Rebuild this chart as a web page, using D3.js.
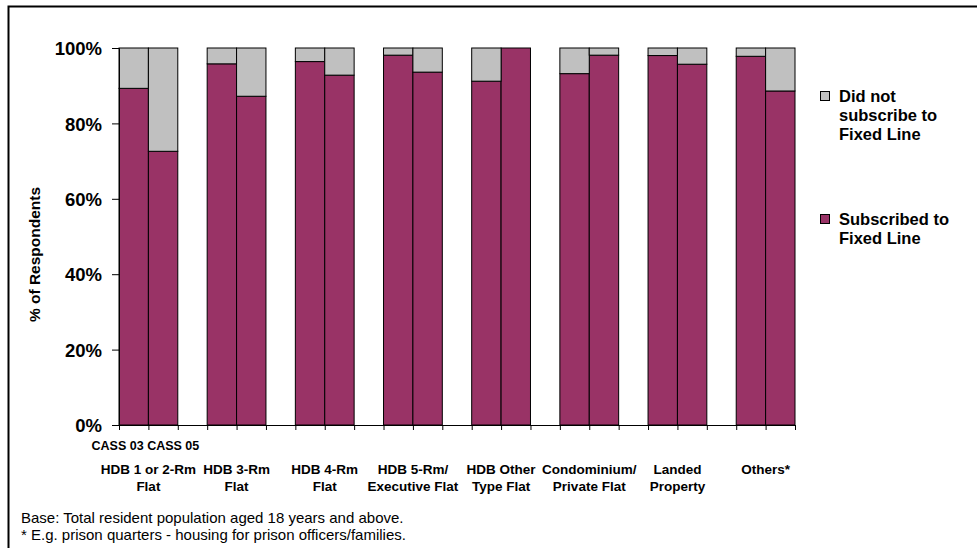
<!DOCTYPE html>
<html>
<head>
<meta charset="utf-8">
<script src="https://cdn.jsdelivr.net/npm/d3@7/dist/d3.min.js"></script>
<style>
  body { margin: 0; background: #fff; overflow: hidden; }
  svg { display: block; }
  text { font-family: "Liberation Sans", Arial, sans-serif; fill: #000; }
</style>
</head>
<body>
<svg id="chart" width="977" height="548"></svg>
<script>
// housing types (x categories), two survey years per type
var categories = [
  ["HDB 1 or 2-Rm", "Flat"],
  ["HDB 3-Rm", "Flat"],
  ["HDB 4-Rm", "Flat"],
  ["HDB 5-Rm/", "Executive Flat"],
  ["HDB Other", "Type Flat"],
  ["Condominium/", "Private Flat"],
  ["Landed", "Property"],
  ["Others*"]
];
var years = ["CASS 03", "CASS 05"];

// % subscribed to fixed line, [CASS 03, CASS 05] per category
var subscribed = [
  [89.3, 72.6],
  [95.8, 87.2],
  [96.4, 92.8],
  [98.1, 93.6],
  [91.2, 100],
  [93.2, 98.1],
  [98.0, 95.7],
  [97.8, 88.6]
];
// % did not subscribe
var notSubscribed = [
  [10.7, 27.4],
  [4.2, 12.8],
  [3.6, 7.2],
  [1.9, 6.4],
  [8.8, 0],
  [6.8, 1.9],
  [2.0, 4.3],
  [2.2, 11.4]
];
var yTicks = [0, 20, 40, 60, 80, 100];

var svg = d3.select("#chart");

// outer frame (right and bottom edges fall outside the picture)
svg.append("rect")
  .attr("x", 8.5).attr("y", 6.5)
  .attr("width", 1200).attr("height", 800)
  .attr("fill", "none").attr("stroke", "#000").attr("stroke-width", 2);

var plotLeft = 119, plotRight = 795, plotTop = 48, plotBottom = 425;
var nSlots = categories.length * 3 - 1; // bar, bar, gap

var x = d3.scaleLinear().domain([0, nSlots]).range([plotLeft, plotRight]);
var y = d3.scaleLinear().domain([0, 100]).range([plotBottom, plotTop]);

var purple = "#993366", grey = "#c0c0c0";

// flatten into bar records
var bars = [];
subscribed.forEach(function(pair, i) {
  pair.forEach(function(v, j) {
    bars.push({ slot: i * 3 + j, sub: v, not: notSubscribed[i][j] });
  });
});

var g = svg.append("g");
g.selectAll(".sub")
  .data(bars)
  .enter().append("rect")
    .attr("class", "sub")
    .attr("x", function(d) { return x(d.slot); })
    .attr("width", function(d) { return x(d.slot + 1) - x(d.slot); })
    .attr("y", function(d) { return y(d.sub); })
    .attr("height", function(d) { return y(0) - y(d.sub); })
    .attr("fill", purple).attr("stroke", "#000").attr("stroke-width", 1);

g.selectAll(".not")
  .data(bars.filter(function(d) { return d.not > 0; }))
  .enter().append("rect")
    .attr("class", "not")
    .attr("x", function(d) { return x(d.slot); })
    .attr("width", function(d) { return x(d.slot + 1) - x(d.slot); })
    .attr("y", function(d) { return y(d.sub + d.not); })
    .attr("height", function(d) { return y(d.sub) - y(d.sub + d.not); })
    .attr("fill", grey).attr("stroke", "#000").attr("stroke-width", 1);

// y axis
var yAxis = d3.axisLeft(y)
  .tickValues(yTicks)
  .tickFormat(function(d) { return d + "%"; })
  .tickSize(7).tickPadding(10);
var ya = svg.append("g").attr("transform", "translate(" + plotLeft + ",0)").call(yAxis);
ya.attr("font-family", null).attr("font-size", null);
ya.select(".domain").attr("stroke", "#000");
ya.selectAll("line").attr("stroke", "#000");
ya.selectAll("text")
  .style("font-size", "18.5px").style("font-weight", "bold")
  .attr("dy", "0.36em");

// x axis: tick at every slot boundary
var xAxis = d3.axisBottom(x)
  .tickValues(d3.range(0, nSlots + 1))
  .tickFormat("")
  .tickSize(5).tickSizeOuter(0);
var xa = svg.append("g").attr("transform", "translate(0," + plotBottom + ")").call(xAxis);
xa.select(".domain").attr("stroke", "#000");
xa.selectAll("line").attr("stroke", "#000");

// year labels under first pair
svg.append("text")
  .attr("x", (x(0) + x(2)) / 2 - 3).attr("y", 450)
  .attr("text-anchor", "middle")
  .style("font-size", "12.5px").style("font-weight", "bold")
  .text(years.join(" "));

// category labels
var cat = svg.append("g").selectAll("text")
  .data(categories)
  .enter().append("text")
    .attr("x", function(d, i) { return x(i * 3 + 1); })
    .attr("y", 474)
    .attr("text-anchor", "middle")
    .style("font-size", "13.5px").style("font-weight", "bold");
cat.selectAll("tspan")
  .data(function(d) { return d; })
  .enter().append("tspan")
    .attr("x", function() { return this.parentNode.getAttribute("x"); })
    .attr("dy", function(d, k) { return k === 0 ? 0 : 17; })
    .text(function(d) { return d; });

// y axis title
svg.append("text")
  .attr("transform", "translate(40," + ((plotTop + plotBottom) / 2 + 18) + ") rotate(-90)")
  .attr("text-anchor", "middle")
  .style("font-size", "15.5px").style("font-weight", "bold")
  .text("% of Respondents");

// legend
var legendItems = [
  { color: grey, lines: ["Did not", "subscribe to", "Fixed Line"], y: 96 },
  { color: purple, lines: ["Subscribed to", "Fixed Line"], y: 219 }
];
var lg = svg.append("g").selectAll("g")
  .data(legendItems)
  .enter().append("g")
    .attr("transform", function(d) { return "translate(820," + d.y + ")"; });
lg.append("rect")
  .attr("x", 0.5).attr("y", -4.5).attr("width", 9).attr("height", 9)
  .attr("fill", function(d) { return d.color; })
  .attr("stroke", "#000").attr("stroke-width", 1);
var lt = lg.append("text")
  .attr("x", 19).attr("y", 0)
  .style("font-size", "16.5px").style("font-weight", "bold");
lt.selectAll("tspan")
  .data(function(d) { return d.lines; })
  .enter().append("tspan")
    .attr("x", 19)
    .attr("y", function(d, k) { return k * 19; })
    .attr("dy", "0.36em")
    .text(function(d) { return d; });

// footnotes
var notes = [
  "Base: Total resident population aged 18 years and above.",
  "* E.g. prison quarters - housing for prison officers/families."
];
svg.append("g").selectAll("text")
  .data(notes)
  .enter().append("text")
    .attr("x", 21).attr("y", function(d, i) { return 523 + i * 17; })
    .style("font-size", "15px")
    .text(function(d) { return d; });
</script>
</body>
</html>
